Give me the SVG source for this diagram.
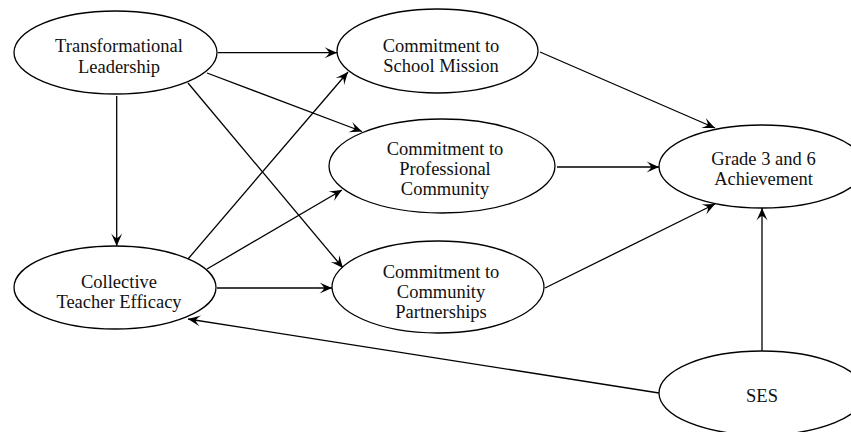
<svg xmlns="http://www.w3.org/2000/svg" width="851" height="432" viewBox="0 0 851 432">
<style>
.n{fill:#fff;stroke:#000;stroke-width:1.3}
.t{font-family:"Liberation Serif","Times New Roman",serif;font-size:18.5px;fill:#111;text-anchor:middle}
.e{stroke:#000;stroke-width:1.3;fill:none;marker-end:url(#ah)}
</style>
<defs>
<marker id="ah" viewBox="-13 -7 14 14" refX="0" refY="0" markerWidth="14" markerHeight="14" markerUnits="userSpaceOnUse" orient="auto">
<path d="M0,0 L-12.5,-5.5 Q-8,-1.5 -8,0 Q-8,1.5 -12.5,5.5 Z" fill="#000"/>
</marker>
</defs>
<rect width="851" height="432" fill="#fff"/>
<g id="connectors">
<line class="e" x1="218" y1="52.7" x2="337" y2="52.7"/>
<line class="e" x1="207" y1="73" x2="362" y2="131.5"/>
<line class="e" x1="188" y1="83" x2="343" y2="268"/>
<line class="e" x1="116.7" y1="96" x2="116.7" y2="246"/>
<line class="e" x1="188" y1="259" x2="348" y2="72"/>
<line class="e" x1="207" y1="269" x2="342" y2="190"/>
<line class="e" x1="217" y1="288" x2="332" y2="288"/>
<line class="e" x1="540" y1="52" x2="715" y2="128"/>
<line class="e" x1="557" y1="167" x2="659" y2="167"/>
<line class="e" x1="545" y1="288" x2="715" y2="204"/>
<line class="e" x1="762" y1="351" x2="762" y2="208"/>
<line class="e" x1="659" y1="393" x2="188" y2="319"/>
</g>
<g id="transformational-leadership">
<ellipse class="n" cx="115.5" cy="52.5" rx="101.5" ry="41.5"/>
<text class="t" x="119" y="52">Transformational</text>
<text class="t" x="119" y="72.5">Leadership</text>
</g>
<g id="school-mission">
<ellipse class="n" cx="437.5" cy="51" rx="100.5" ry="42"/>
<text class="t" x="441" y="52">Commitment to</text>
<text class="t" x="441" y="72">School Mission</text>
</g>
<g id="professional-community">
<ellipse class="n" cx="442" cy="166" rx="113" ry="47"/>
<text class="t" x="445" y="155">Commitment to</text>
<text class="t" x="445" y="175">Professional</text>
<text class="t" x="445" y="195">Community</text>
</g>
<g id="community-partnerships">
<ellipse class="n" cx="438" cy="287" rx="106" ry="46"/>
<text class="t" x="441" y="277.5">Commitment to</text>
<text class="t" x="441" y="297.5">Community</text>
<text class="t" x="441" y="317.5">Partnerships</text>
</g>
<g id="collective-teacher-efficacy">
<ellipse class="n" cx="115" cy="287.5" rx="101" ry="41.5"/>
<text class="t" x="119" y="287.5">Collective</text>
<text class="t" x="119" y="308">Teacher Efficacy</text>
</g>
<g id="achievement">
<ellipse class="n" cx="762" cy="166.5" rx="103" ry="41.5"/>
<text class="t" x="763.5" y="165">Grade 3 and 6</text>
<text class="t" x="763.5" y="185">Achievement</text>
</g>
<g id="ses">
<ellipse class="n" cx="762" cy="393" rx="103" ry="42"/>
<text class="t" x="762" y="401.5">SES</text>
</g>
</svg>
